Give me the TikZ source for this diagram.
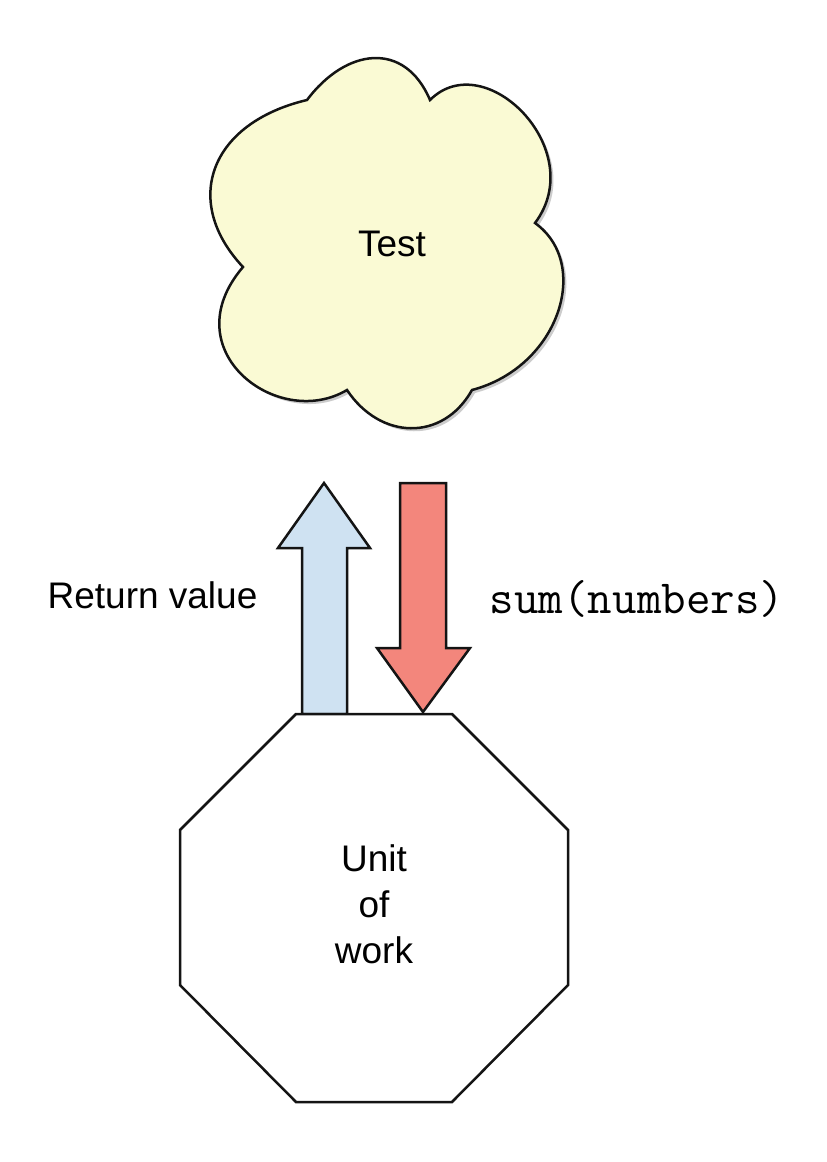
\documentclass[tikz,border=0pt]{standalone}
\usepackage{fontspec}
\setmainfont{Liberation Sans}
\usetikzlibrary{shadows}
\definecolor{cloudfill}{RGB}{250,250,212}
\definecolor{upblue}{RGB}{207,226,242}
\definecolor{downred}{RGB}{243,134,124}
\definecolor{inkline}{RGB}{20,20,20}
\tikzset{
  outline/.style={draw=inkline, line width=2.5pt, line join=miter},
  cloudshape/.style={outline, fill=cloudfill, drop shadow={shadow xshift=3pt, shadow yshift=-3pt, opacity=0.2, fill=black}},
  blockarrow/.style={outline},
  label/.style={font=\fontsize{37}{46}\selectfont, inner sep=0pt},
  codelabel/.style={font=\ttfamily\fontsize{47.6}{50}\selectfont, inner sep=0pt}
}
\begin{document}
\begin{tikzpicture}[x=1pt,y=-1pt]
\useasboundingbox (0,0) rectangle (827,1162);
% cloud
\path[cloudshape] (307,100) .. controls (346,48) and (404.6,40.2) .. (430,100)
  .. controls (485,45) and (590,150) .. (535,223)
  .. controls (592,264) and (559,367) .. (472,390)
  .. controls (442.6,442.2) and (380,439.8) .. (347,390)
  .. controls (278,431) and (171.5,350.6) .. (243,267)
  .. controls (181,201) and (210,123) .. (307,100) -- cycle;
\node[label, anchor=base] (test) at (392,256) {Test};
% arrows
\path[blockarrow, fill=upblue] (302,714) -- (302,548) -- (278,548) -- (324,483) -- (370,548) -- (347,548) -- (347,714) -- cycle;
\path[blockarrow, fill=downred] (400,483) -- (446,483) -- (446,648) -- (470,648) -- (423,712) -- (377,648) -- (400,648) -- cycle;
% octagon
\path[outline, fill=white] (296,714) -- (452,714) -- (568,830) -- (568,985) -- (452,1102) -- (296,1102) -- (180,985) -- (180,830) -- cycle;
\node[label, align=center] (unit) at (374,904.5) {Unit\\of\\work};
% labels
\node[label, anchor=base] (ret) at (152.5,608) {Return value};
\node[codelabel, anchor=base] (call) at (637,613) {sum(numbers)};
\end{tikzpicture}
\end{document}
